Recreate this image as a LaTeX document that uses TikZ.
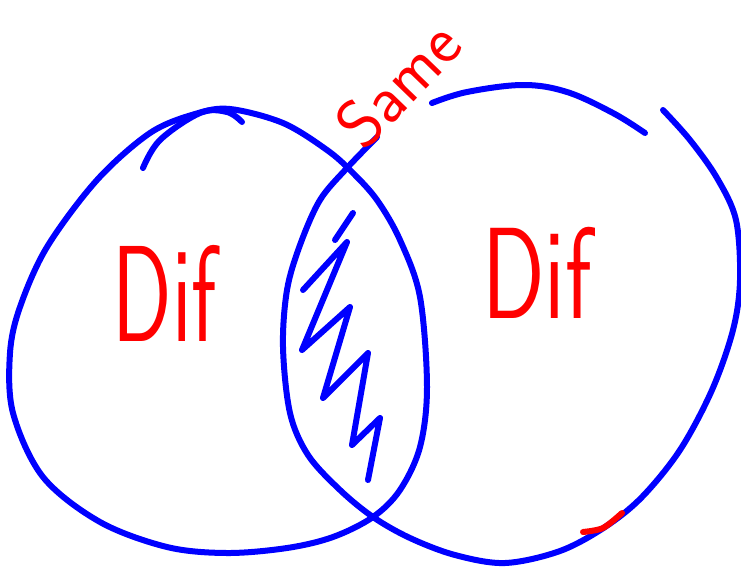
\documentclass[tikz,border=0pt]{standalone}
\usepackage{fontspec}
\usepackage{graphicx}
\usepackage{xcolor}
\usepackage{tikz}

\begin{document}
\begin{tikzpicture}[
        x=1pt, y=-1pt,
        pen/.style={draw=blue, line width=6pt, line cap=round, line join=round},
        redpen/.style={draw=red, line width=6pt, line cap=round, line join=round},
        ink/.style={text=red, inner sep=0pt, font=\sffamily}
    ]
        \useasboundingbox (0,0) rectangle (741,571);

        % Left circle
        \draw[pen] plot[smooth cycle, tension=0.55] coordinates {(230,109) (283,123) (327,150) (352,172) (377,200) (400,240) (420,297) (427,387) (420,447) (400,490) (373,517) (333,537) (287,548) (227,553) (167,547) (100,522) (43,477) (13,413) (10,353) (20,307) (47,247) (97,180) (150,133) (195,114)};
        \draw[pen] plot[smooth, tension=0.6] coordinates {(143,168) (160,140) (200,113) (227,112) (242,122)};

        % Right circle
        \draw[pen] plot[smooth, tension=0.55] coordinates {(377,137) (347,168) (320,200) (300,245) (287,290) (283,347) (290,413) (308,455) (340,490) (373,517) (410,538) (455,555) (505,563) (560,551) (605,527) (642,497) (680,450) (712,390) (733,330) (740,280) (736,220) (717,178) (690,140) (663,110)};
        \draw[pen] plot[smooth, tension=0.6] coordinates {(432,103) (467,92) (523,85) (567,92) (613,113) (645,133)};

        % Shading of the overlap
        \draw[pen] (353,213) -- (335,240);
        \draw[pen] (303,290) -- (347,242) -- (302,350) -- (350,307) -- (323,398) -- (368,353) -- (352,445) -- (380,418) -- (368,480);

        % Red tick
        \draw[redpen] plot[smooth] coordinates {(583,532) (603,528) (622,513)};

        % Labels
        \node[ink, rotate=46, font=\sffamily\fontsize{68}{68}\selectfont] (same) at (398,84) {Same};
        \node[ink, font=\sffamily\fontsize{137}{137}\selectfont] (difl) at (165,293) {\scalebox{0.64}[1]{Dif}};
        \node[ink, font=\sffamily\fontsize{130}{130}\selectfont] (difr) at (537,273) {\scalebox{0.71}[1]{Dif}};
    \end{tikzpicture}
\end{document}
